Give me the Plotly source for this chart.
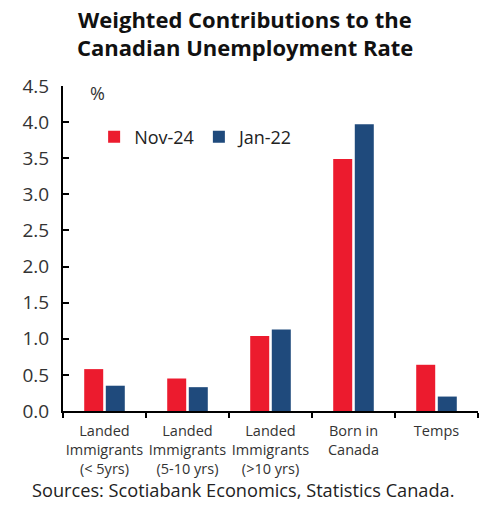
import plotly.graph_objects as go

categories = ["Landed<br>Immigrants<br>(< 5yrs)", "Landed<br>Immigrants<br>(5-10 yrs)",
              "Landed<br>Immigrants<br>(>10 yrs)", "Born in<br>Canada", "Temps"]
nov24 = [0.58, 0.45, 1.04, 3.49, 0.64]
jan22 = [0.35, 0.33, 1.13, 3.97, 0.20]
y_ticks = [0.0, 0.5, 1.0, 1.5, 2.0, 2.5, 3.0, 3.5, 4.0, 4.5]
title_lines = ["Weighted Contributions to the", "Canadian Unemployment Rate"]

FONT = "Open Sans"
fig = go.Figure()
fig.add_trace(go.Bar(x=categories, y=nov24, name="Nov-24", marker_color="#EC1B2E",
                     marker_line_width=0))
fig.add_trace(go.Bar(x=categories, y=jan22, name="Jan-22", marker_color="#1F4A7C",
                     marker_line_width=0))

fig.update_layout(
    width=490, height=508,
    margin=dict(l=63, r=12, t=86, b=97),
    paper_bgcolor="white", plot_bgcolor="white",
    barmode="group", bargap=0.48, bargroupgap=0.12,
    font=dict(family=FONT, color="#333333"),
    showlegend=True,
    legend=dict(orientation="h", x=0.075, y=0.843, xanchor="left", yanchor="middle",
                font=dict(size=18, color="#222222"), bgcolor="rgba(0,0,0,0)",
                itemwidth=30, traceorder="normal"),
    xaxis=dict(showline=True, linecolor="black", linewidth=2, ticks="outside",
               tickson="boundaries", ticklen=5, tickwidth=2, tickcolor="black",
               tickangle=0, automargin=False, ticklabelstandoff=6,
               tickfont=dict(size=14.5, color="#333333"), showgrid=False),
    yaxis=dict(range=[0, 4.5], tickvals=y_ticks, ticktext=[f"{v:.1f}" for v in y_ticks],
               showline=True, linecolor="black", linewidth=2, ticks="inside", ticklen=6,
               tickwidth=2, tickcolor="black", showgrid=False, zeroline=False,
               automargin=False,
               tickfont=dict(size=19, color="#333333"), ticklabelstandoff=8),
)
for i, (line, yp) in enumerate(zip(title_lines, [1.206, 1.12])):
    fig.add_annotation(text=f"<b>{line}</b>", xref="paper", yref="paper", x=0.438, y=yp,
                       xanchor="center", yanchor="middle", showarrow=False,
                       font=dict(size=22, color="#111111", family=FONT))
fig.add_annotation(text="%", xref="paper", yref="paper", x=0.082, y=0.98,
                   xanchor="center", yanchor="middle",
                   showarrow=False, font=dict(size=18, color="#333333"))
fig.add_annotation(text="Sources: Scotiabank Economics, Statistics Canada.", xref="paper",
                   yref="paper", x=0.433, y=-0.243, xanchor="center", yanchor="middle",
                   showarrow=False, font=dict(size=18.2, color="#222222"))
fig.write_html("out.html")
